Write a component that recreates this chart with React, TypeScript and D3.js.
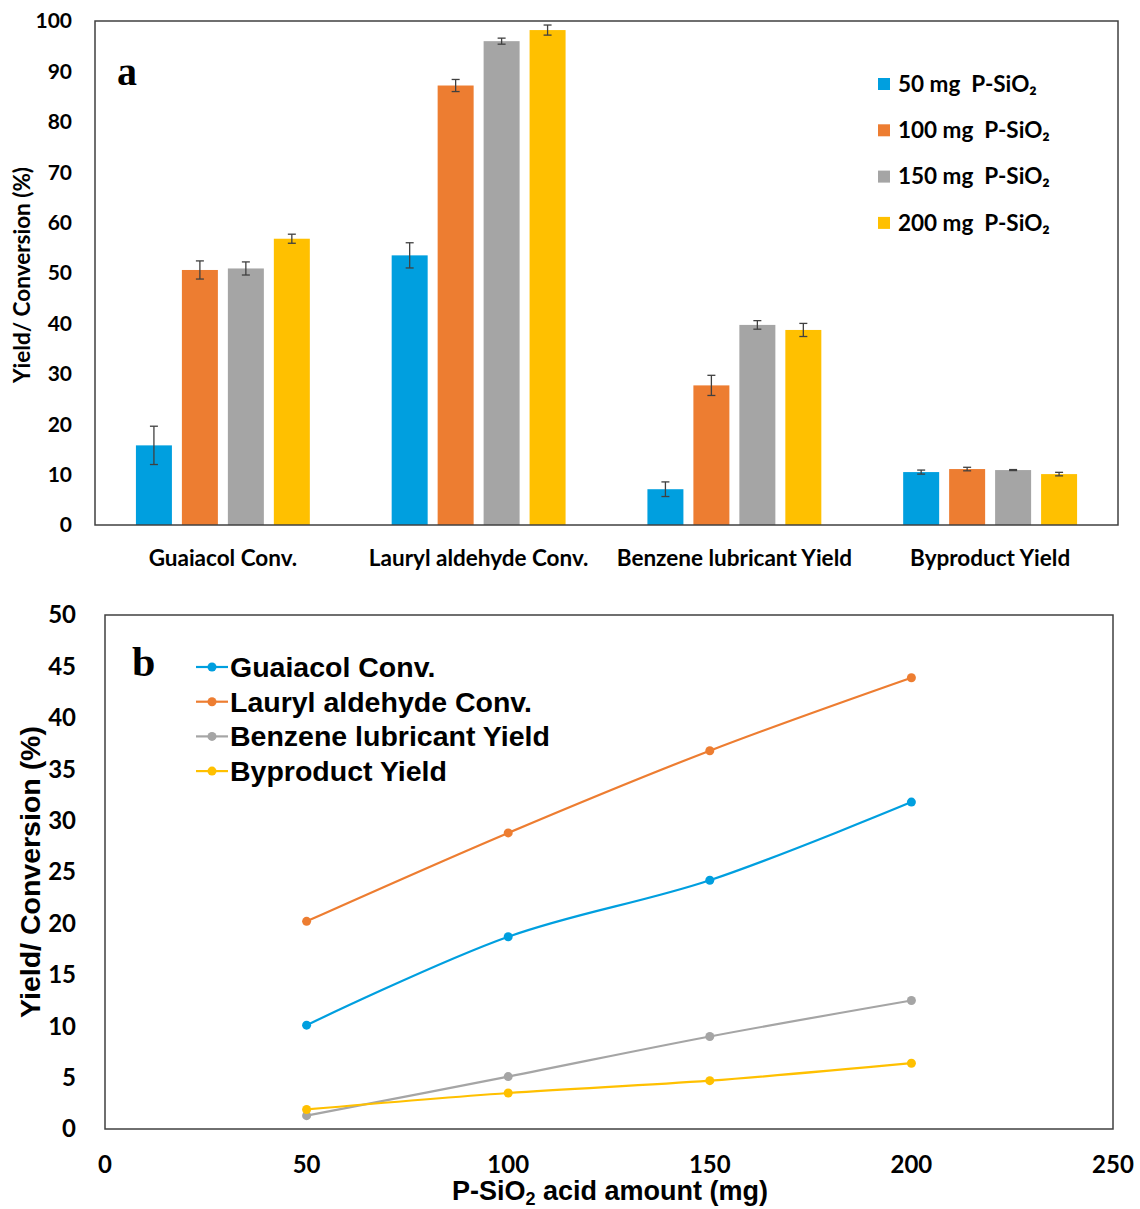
import React, { useRef, useEffect } from 'react';
import * as d3 from 'd3';

// panel a: grouped bars (one array per category, one value per catalyst loading)
const categories = ['Guaiacol Conv.', 'Lauryl aldehyde Conv.', 'Benzene lubricant Yield', 'Byproduct Yield'];
const loadings = ['50 mg  P-SiO₂', '100 mg  P-SiO₂', '150 mg  P-SiO₂', '200 mg  P-SiO₂'];
const colors = ['#009FDF', '#ED7D31', '#A5A5A5', '#FFC000'];

const guaiacolConv = [15.8, 50.6, 50.9, 56.8];
const guaiacolErr = [3.8, 1.8, 1.3, 0.9];
const lauryConv = [53.5, 87.2, 96.0, 98.2];
const lauryErr = [2.5, 1.2, 0.6, 1.0];
const benzeneYield = [7.1, 27.7, 39.7, 38.7];
const benzeneErr = [1.45, 2.0, 0.85, 1.3];
const byproductYield = [10.5, 11.1, 10.9, 10.1];
const byproductErr = [0.4, 0.35, 0.1, 0.35];

const barTicks = [0, 10, 20, 30, 40, 50, 60, 70, 80, 90, 100];

// panel b: lines vs acid amount
const amounts = [50, 100, 150, 200];
const lineNames = ['Guaiacol Conv.', 'Lauryl aldehyde Conv.', 'Benzene lubricant Yield', 'Byproduct Yield'];
const lineGuaiacol = [10.1, 18.7, 24.2, 31.8];
const lineLauryl = [20.2, 28.8, 36.8, 43.9];
const lineBenzene = [1.3, 5.1, 9.0, 12.5];
const lineByproduct = [1.9, 3.5, 4.7, 6.4];
const lineXTicks = [0, 50, 100, 150, 200, 250];
const lineYTicks = [0, 5, 10, 15, 20, 25, 30, 35, 40, 45, 50];

const LABEL_FONT = 'Lato, "Open Sans", sans-serif';
const ARIAL = '"Liberation Sans", Arial, sans-serif';
const SERIF = '"Liberation Serif", "Times New Roman", serif';
const AXIS = '#404040';

const App = () => {
  const ref = useRef<SVGSVGElement>(null);

  useEffect(() => {
    const svg = d3.select(ref.current);
    svg.selectAll('*').remove();

    // ---------- panel a ----------
    const a = { left: 95, right: 1118, top: 21, bottom: 525 };
    const barValues = [guaiacolConv, lauryConv, benzeneYield, byproductYield];
    const barErrs = [guaiacolErr, lauryErr, benzeneErr, byproductErr];

    const x0 = d3.scaleBand().domain(categories).range([a.left, a.right]);
    const x1 = d3
      .scaleBand()
      .domain(loadings)
      .range([x0.bandwidth() * 0.16, x0.bandwidth() * 0.84])
      .paddingInner(0.217);
    const yA = d3.scaleLinear().domain([0, 100]).range([a.bottom, a.top]);

    const gA = svg.append('g');

    categories.forEach((cat, ci) => {
      const g = gA.append('g').attr('transform', `translate(${x0(cat)},0)`);
      loadings.forEach((ld, li) => {
        const v = barValues[ci][li];
        const e = barErrs[ci][li];
        const bx = x1(ld)!;
        g.append('rect')
          .attr('x', bx)
          .attr('y', yA(v))
          .attr('width', x1.bandwidth())
          .attr('height', yA(0) - yA(v))
          .attr('fill', colors[li]);
        const cx = bx + x1.bandwidth() / 2;
        g.append('line')
          .attr('x1', cx).attr('x2', cx)
          .attr('y1', yA(v + e)).attr('y2', yA(v - e))
          .attr('stroke', AXIS).attr('stroke-width', 1.3);
        [v + e, v - e].forEach((t) => {
          g.append('line')
            .attr('x1', cx - 4).attr('x2', cx + 4)
            .attr('y1', yA(t)).attr('y2', yA(t))
            .attr('stroke', AXIS).attr('stroke-width', 1.3);
        });
      });
    });

    gA.append('rect')
      .attr('x', a.left).attr('y', a.top)
      .attr('width', a.right - a.left).attr('height', a.bottom - a.top)
      .attr('fill', 'none').attr('stroke', AXIS).attr('stroke-width', 1.5);

    gA.selectAll('.ytick')
      .data(barTicks)
      .enter()
      .append('text')
      .attr('x', 72)
      .attr('y', (d) => yA(d))
      .attr('dy', '0.35em')
      .attr('text-anchor', 'end')
      .style('font-family', LABEL_FONT)
      .style('font-weight', 'bold')
      .style('font-size', '21px')
      .text((d) => d);

    gA.selectAll('.xlabel')
      .data(categories)
      .enter()
      .append('text')
      .attr('x', (d) => x0(d)! + x0.bandwidth() / 2)
      .attr('y', 558)
      .attr('dy', '0.35em')
      .attr('text-anchor', 'middle')
      .style('font-family', LABEL_FONT)
      .style('font-weight', 'bold')
      .style('font-size', '22.5px')
      .text((d) => d);

    gA.append('text')
      .attr('transform', `translate(22,${(a.top + a.bottom) / 2 + 2}) rotate(-90)`)
      .attr('dy', '0.35em')
      .attr('text-anchor', 'middle')
      .style('font-family', LABEL_FONT)
      .style('font-weight', 'bold')
      .style('font-size', '22.5px')
      .text('Yield/ Conversion (%)');

    gA.append('text')
      .attr('x', 117).attr('y', 85)
      .style('font-family', SERIF)
      .style('font-weight', 'bold')
      .style('font-size', '40px')
      .text('a');

    const legA = gA.append('g').attr('transform', 'translate(878,84)');
    loadings.forEach((ld, i) => {
      legA.append('rect')
        .attr('x', 0).attr('y', i * 46.3 - 6)
        .attr('width', 12).attr('height', 12)
        .attr('fill', colors[i]);
      legA.append('text')
        .attr('x', 20).attr('y', i * 46.3)
        .attr('dy', '0.35em')
        .style('font-family', LABEL_FONT)
        .style('font-weight', 'bold')
        .style('font-size', '22.5px')
        .style('white-space', 'pre')
        .text(ld);
    });

    // ---------- panel b ----------
    const b = { left: 105, right: 1113, top: 615, bottom: 1129 };
    const xB = d3.scaleLinear().domain([0, 250]).range([b.left, b.right]);
    const yB = d3.scaleLinear().domain([0, 50]).range([b.bottom, b.top]);
    const lines = [lineGuaiacol, lineLauryl, lineBenzene, lineByproduct];

    const gB = svg.append('g');
    gB.append('rect')
      .attr('x', b.left).attr('y', b.top)
      .attr('width', b.right - b.left).attr('height', b.bottom - b.top)
      .attr('fill', 'none').attr('stroke', AXIS).attr('stroke-width', 1.5);

    const lineGen = d3
      .line<number>()
      .x((_, i) => xB(amounts[i]))
      .y((d) => yB(d))
      .curve(d3.curveCatmullRom.alpha(0.5));

    lines.forEach((vals, si) => {
      gB.append('path')
        .attr('d', lineGen(vals))
        .attr('fill', 'none')
        .attr('stroke', colors[si])
        .attr('stroke-width', 2.2);
      gB.selectAll(`.pt${si}`)
        .data(vals)
        .enter()
        .append('circle')
        .attr('cx', (_, i) => xB(amounts[i]))
        .attr('cy', (d) => yB(d))
        .attr('r', 4.5)
        .attr('fill', colors[si]);
    });

    gB.selectAll('.ytickb')
      .data(lineYTicks)
      .enter()
      .append('text')
      .attr('x', 76)
      .attr('y', (d) => yB(d))
      .attr('dy', '0.35em')
      .attr('text-anchor', 'end')
      .style('font-family', LABEL_FONT)
      .style('font-weight', 'bold')
      .style('font-size', '24px')
      .text((d) => d);

    gB.selectAll('.xtickb')
      .data(lineXTicks)
      .enter()
      .append('text')
      .attr('x', (d) => xB(d))
      .attr('y', 1165)
      .attr('dy', '0.35em')
      .attr('text-anchor', 'middle')
      .style('font-family', LABEL_FONT)
      .style('font-weight', 'bold')
      .style('font-size', '24px')
      .text((d) => d);

    const xt = gB.append('text')
      .attr('x', 610).attr('y', 1200)
      .attr('text-anchor', 'middle')
      .style('font-family', ARIAL)
      .style('font-weight', 'bold')
      .style('font-size', '27px');
    xt.append('tspan').text('P-SiO');
    xt.append('tspan').attr('dy', 5).style('font-size', '18px').text('2');
    xt.append('tspan').attr('dy', -5).text(' acid amount (mg)');

    gB.append('text')
      .attr('transform', `translate(30,${(b.top + b.bottom) / 2}) rotate(-90)`)
      .attr('dy', '0.35em')
      .attr('text-anchor', 'middle')
      .style('font-family', ARIAL)
      .style('font-weight', 'bold')
      .style('font-size', '28.5px')
      .text('Yield/ Conversion (%)');

    gB.append('text')
      .attr('x', 132).attr('y', 676)
      .style('font-family', SERIF)
      .style('font-weight', 'bold')
      .style('font-size', '42px')
      .text('b');

    const legB = gB.append('g').attr('transform', 'translate(196,667)');
    lineNames.forEach((name, i) => {
      const yy = i * 34.7;
      legB.append('line')
        .attr('x1', 0).attr('x2', 32)
        .attr('y1', yy).attr('y2', yy)
        .attr('stroke', colors[i]).attr('stroke-width', 2.2);
      legB.append('circle').attr('cx', 16).attr('cy', yy).attr('r', 4.5).attr('fill', colors[i]);
      legB.append('text')
        .attr('x', 34).attr('y', yy)
        .attr('dy', '0.35em')
        .style('font-family', ARIAL)
        .style('font-weight', 'bold')
        .style('font-size', '28.5px')
        .text(name);
    });
  }, []);

  return (
    <svg
      ref={ref}
      width={1140}
      height={1209}
      style={{ position: 'absolute', left: 0, top: 0, background: '#fff' }}
    ></svg>
  );
};

export default App;
